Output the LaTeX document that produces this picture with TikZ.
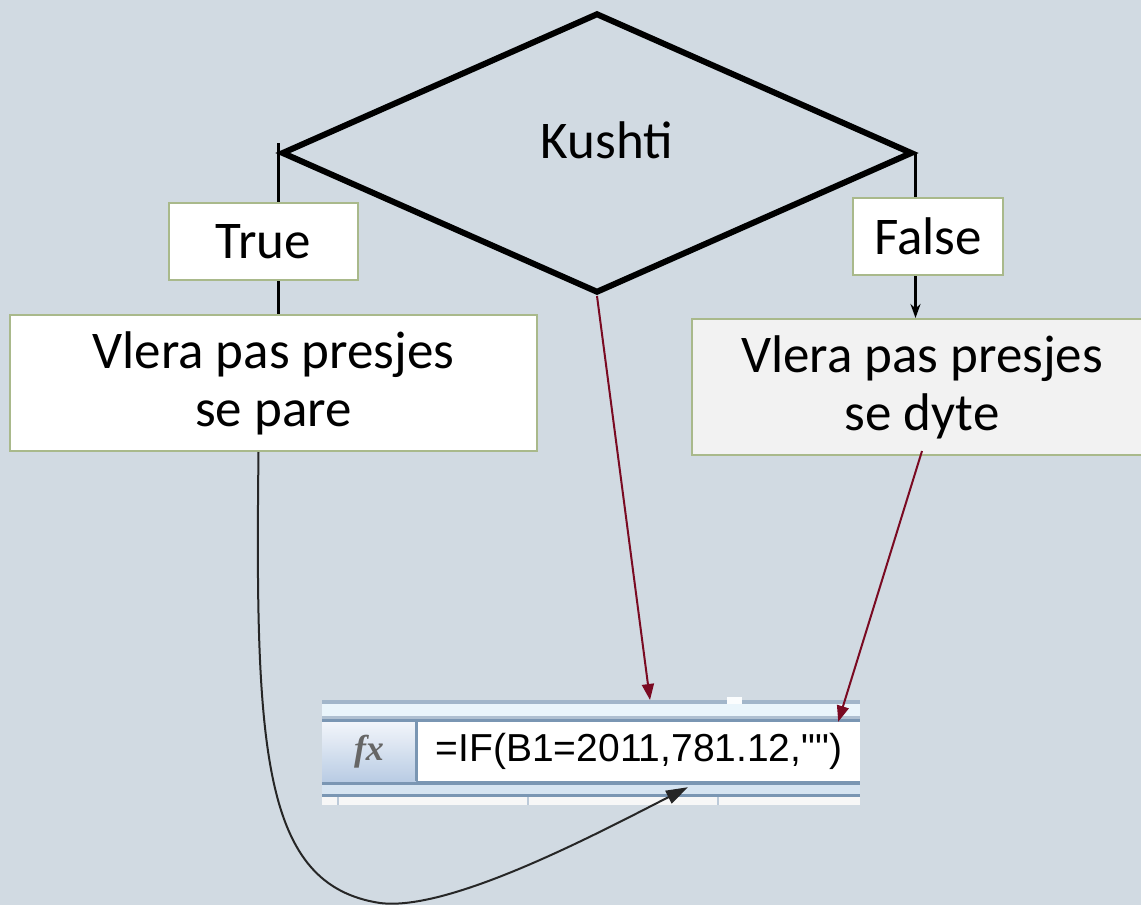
\documentclass[tikz,border=0pt]{standalone}
\usepackage{fontspec}
\setmainfont{Carlito}
\newfontfamily\cellfont{Liberation Sans}
\newfontfamily\fxfont{Liberation Serif}
\usetikzlibrary{calc,shapes.geometric,arrows.meta}
\definecolor{slide}{HTML}{D1DAE2}
\definecolor{boxgreen}{HTML}{A9B98B}
\definecolor{darkred}{HTML}{7A0A22}
\definecolor{barline}{HTML}{7A96B3}
\definecolor{barlight}{HTML}{EAF5FB}
\definecolor{barband}{HTML}{D6E4F1}
\definecolor{fxtop}{HTML}{F2F5FA}
\definecolor{fxbottom}{HTML}{B9CCE4}

\begin{document}
\begin{tikzpicture}[x=1pt,y=-1pt,
		textbox/.style={draw=boxgreen, line width=2pt, fill=white, inner sep=0pt,
			font=\fontsize{53}{58}\selectfont, align=center},
		flowline/.style={line width=2.5pt, black},
		redarrow/.style={draw=darkred, line width=2pt, -{Triangle[length=16pt,width=12pt]}},
	]
		\pgfmathsetmacro{\barleft}{322}
		\pgfmathsetmacro{\barright}{860}
		
		\fill[slide] (0,0) rectangle (1141,905);
		\useasboundingbox (0,0) rectangle (1141,905);
		
		\node[diamond, draw, line width=6pt, aspect=2.25, minimum width=631pt,
			minimum height=280pt, inner sep=0pt] (cond) at (597,153) {};
		\node[font=\fontsize{53}{58}\selectfont] (kushti) at (607,140) {Kushti};
		
		\node[textbox, minimum width=189pt, minimum height=77pt] (true) at (263.5,241.5) {True};
		\node[textbox, minimum width=150pt, minimum height=77pt] (false) at (928,236.5) {False};
		\node[textbox, minimum width=527pt, minimum height=136pt] (parL) at (273.5,383)
			{Vlera pas presjes\\se pare};
		\node[textbox, fill=black!5, minimum width=460pt, minimum height=136pt] (parR) at (922,387)
			{Vlera pas presjes\\se dyte};
		
		\draw[flowline] ($(cond.west)+(0,-10)$) -- (true.north -| cond.west);
		\draw[flowline] (true.south -| cond.west) -- (parL.north -| cond.west);
		\draw[flowline] (cond.east) -- (false.north -| cond.east);
		\draw[flowline, -{Stealth[length=14pt,width=10pt]}] (false.south -| cond.east) -- (parR.north -| cond.east);
		
		\fill[barline!70] (\barleft,700) rectangle (\barright,704);
		\fill[barlight] (\barleft,704) rectangle (\barright,716);
		\fill[white!80!barlight] (727,697) rectangle (742,704);
		\fill[barline!60] (\barleft,716) rectangle (\barright,722);
		\fill[barline] (\barleft,719) rectangle (\barright,722);
		\fill[barline] (\barleft,781) rectangle (\barright,785);
		\fill[barband] (\barleft,785) rectangle (\barright,794);
		\fill[barline] (\barleft,794) rectangle (\barright,797);
		\fill[black!3] (\barleft,797) rectangle (\barright,805);
		\foreach \x in {338, 528, 718}
		{
			\draw[barline!50, line width=2pt] (\x,797) -- (\x,805);
		}
		\node[top color=fxtop, bottom color=fxbottom, minimum width=94pt, minimum height=59pt,
			inner sep=0pt, font=\fxfont\itshape\bfseries\fontsize{36}{36}\selectfont, text=black!60] (fxbtn) at (369,751.5)
			{fx};
		\draw[barline, line width=3pt] (416,722) -- (416,781);
		\node[fill=white, minimum width=442pt, minimum height=59pt, inner sep=0pt,
			font=\cellfont\fontsize{39}{39}\selectfont] (formula) at (639,751.5) {=IF(B1=2011,781.12,"")};
		
		\coordinate (bartop) at (650,700);
		\draw[redarrow] (cond.south) -- (bartop);
		\draw[redarrow] ($(parR.south)+(0,-5)$) -- ($(formula.north east)+(-22,0)$);
		
		\draw[line width=2pt, black!85, -{Triangle[length=22pt,width=14pt]}]
			($(parL.south)+(-15,0)$) .. controls (255,750) and (262,885) .. (380,903)
			.. controls (450,912) and (600,832) .. ($(formula.south)+(49,6)$);
	\end{tikzpicture}
\end{document}
